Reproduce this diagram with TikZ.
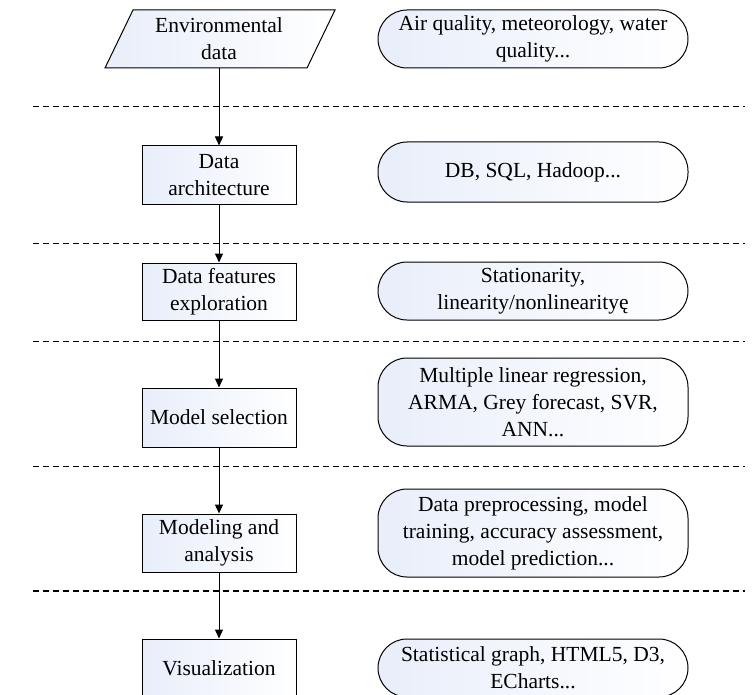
\documentclass[tikz,border=0pt]{standalone}
\usepackage{fontspec}
\setmainfont{Liberation Serif}
\usetikzlibrary{arrows.meta}
\definecolor{boxblue}{RGB}{232,238,250}
\tikzset{
  boxline/.style={draw=black, line width=1pt, left color=boxblue, right color=white},
  txt/.style={align=center, inner sep=0pt, font=\fontsize{21.5}{27}\selectfont},
  stepbox/.style={boxline, txt, rectangle, minimum width=154pt},
  infobox/.style={boxline, txt, rectangle, rounded corners=29pt, minimum width=310pt},
  sep/.style={dash pattern=on 6pt off 4pt, line width=1pt},
  flow/.style={line width=1pt, -{Triangle[length=9pt,width=8pt]}},
}
\begin{document}
\begin{tikzpicture}[x=1pt,y=-1pt]
\useasboundingbox (0,0) rectangle (754,695);
% separators
\draw[sep] (33,107) -- (745,107);
\draw[sep] (33,243) -- (745,243);
\draw[sep] (33,341) -- (745,341);
\draw[sep] (33,466) -- (745,466);
\draw[sep, line width=1.6pt] (33,591) -- (745,591);
% input parallelogram
\path[boxline] (133,10) -- (335,10) -- (307,68) -- (105,68) -- cycle;
\node[txt, minimum width=160pt, minimum height=58pt] (env) at (219,39) {Environmental\\data};
% process steps
\node[stepbox, minimum height=58pt] (arch) at (219,175) {Data\\architecture};
\node[stepbox, minimum height=57pt] (feat) at (219,291.5) {Data features\\exploration};
\node[stepbox, minimum height=59pt] (model) at (219,417.5) {Model selection};
\node[stepbox, minimum height=58pt] (modeling) at (219,543) {Modeling and\\analysis};
\node[stepbox, minimum height=58pt] (vis) at (219,668) {Visualization};
% info boxes
\node[infobox, minimum height=58pt] (air) at (533,39) {Air quality, meteorology, water\\quality...};
\node[infobox, minimum height=60pt] (db) at (533,172) {DB, SQL, Hadoop...};
\node[infobox, minimum height=58pt] (stat) at (533,291) {Stationarity,\\linearity/nonlinearityę};
\node[infobox, minimum height=88pt] (mult) at (533,402) {Multiple linear regression,\\ARMA, Grey forecast, SVR,\\ANN...};
\node[infobox, minimum height=88pt] (pre) at (533,533) {Data preprocessing, model\\training, accuracy assessment,\\model prediction...};
\node[infobox, minimum height=58pt] (chart) at (533,668) {Statistical graph, HTML5, D3,\\ECharts...};
% flow
\draw[flow] (env.south) -- (arch.north);
\draw[flow] (arch.south) -- (feat.north);
\draw[flow] (feat.south) -- (model.north);
\draw[flow] (model.south) -- (modeling.north);
\draw[flow] (modeling.south) -- (vis.north);
\end{tikzpicture}
\end{document}
